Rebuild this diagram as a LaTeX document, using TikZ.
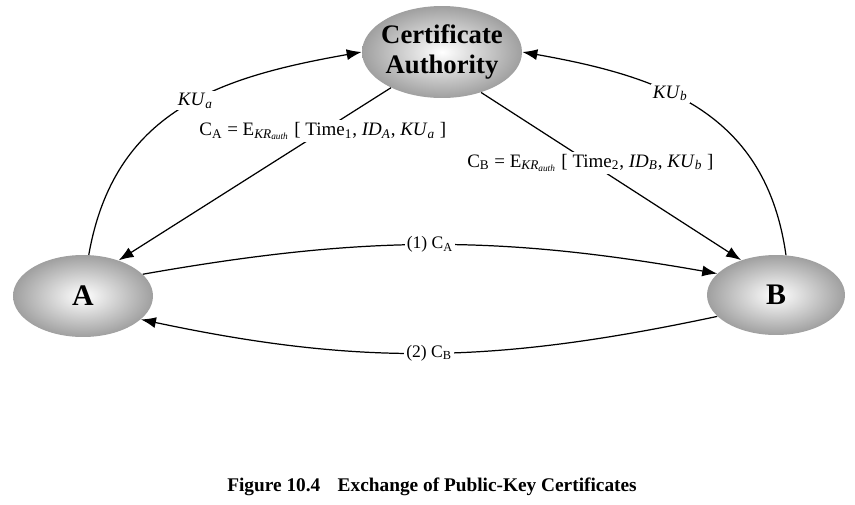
\documentclass[tikz,border=0pt]{standalone}
\usepackage{fontspec}
\setmainfont{Liberation Serif}
\usetikzlibrary{shapes.geometric, arrows.meta, positioning}
\tikzstyle{party} = [
	ellipse,
	inner sep=0pt,
	text centered,
	font=\bfseries\fontsize{17}{19}\selectfont,
	inner color=white,
	outer color=gray!75,
	shading=radial
]
\tikzstyle{msg} = [
	fill=white,
	inner sep=1pt,
	font=\fontsize{10.8}{12}\selectfont
]
\tikzstyle{arrow} = [line width=0.7pt,->,>={Latex[length=3mm,width=2.2mm]}]

\begin{document}
\begin{tikzpicture}[x=0.02cm, y=-0.02cm]
	\useasboundingbox (0,0) rectangle (855,504);
	\node (ca) [party, minimum width=3.2cm, minimum height=1.84cm, inner xsep=-0.4cm, align=center, font=\bfseries\fontsize{15.2}{17}\selectfont] at (442,52) {Certificate\\Authority};
	\node (a) [party, minimum width=2.8cm, minimum height=1.64cm] at (83,296) {A};
	\node (b) [party, minimum width=2.76cm, minimum height=1.6cm] at (776,295) {B};
	\node (caption) at (432,487) {\bfseries\fontsize{11}{13}\selectfont Figure 10.4\hspace{0.9em}Exchange of Public-Key Certificates};
	
	\draw [arrow] (a.82) to[out=80,in=190,looseness=1.1] node[msg, pos=0.55] {\textit{KU}\textsubscript{\textit{a}}} (ca.west);
	\draw [arrow] (b.76) to[out=98,in=-10,looseness=1.1] node[msg, pos=0.6] {\textit{KU}\textsubscript{\textit{b}}} (ca.east);
	\draw [arrow] (ca.215) -- node[msg, pos=0.25] {C\textsubscript{A} = E\textsubscript{\textit{KR}\textsubscript{\textit{auth}}} [ Time\textsubscript{1}, \textit{ID}\textsubscript{\textit{A}}, \textit{KU}\textsubscript{\textit{a}} ]} (a.45);
	\draw [arrow] (ca.314) -- node[msg, pos=0.42] {C\textsubscript{B} = E\textsubscript{\textit{KR}\textsubscript{\textit{auth}}} [ Time\textsubscript{2}, \textit{ID}\textsubscript{\textit{B}}, \textit{KU}\textsubscript{\textit{b}} ]} (b.135);
	\draw [arrow] (a.20) to[out=10,in=170] node[msg, font=\fontsize{10}{12}\selectfont] {(1) C\textsubscript{A}} (b.160);
	\draw [arrow] (b.200) to[out=-168,in=-12] node[msg, font=\fontsize{10}{12}\selectfont] {(2) C\textsubscript{B}} (a.-22);
\end{tikzpicture}
\end{document}
